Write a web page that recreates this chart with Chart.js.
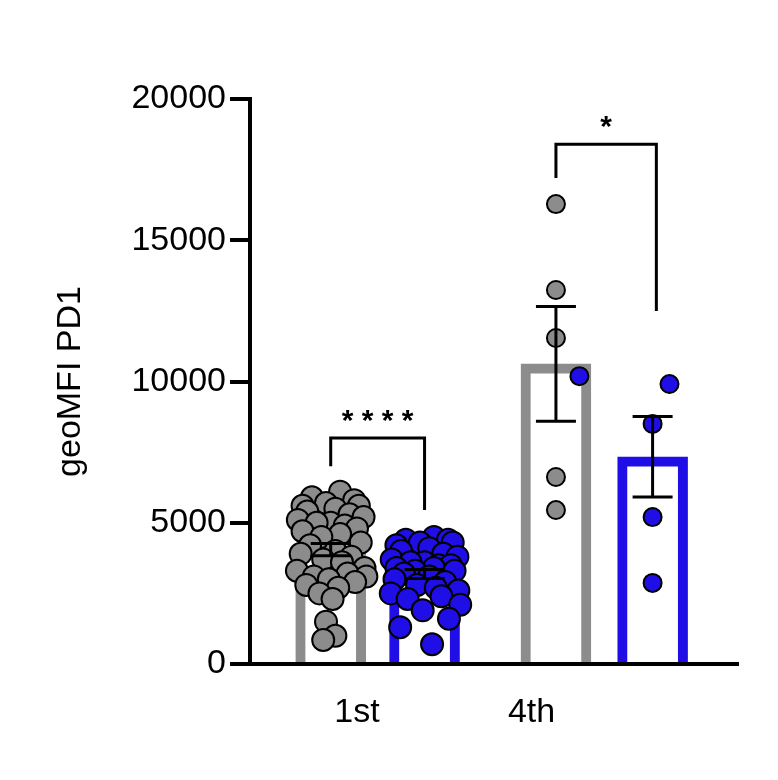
<!DOCTYPE html>
<html>
<head>
<meta charset="utf-8">
<script src="https://cdn.jsdelivr.net/npm/chart.js@4"></script>
<style>
  body { margin: 0; background: #fff; }
  #wrap { width: 778px; height: 780px; }
</style>
</head>
<body>
<div id="wrap"><canvas id="myChart"></canvas></div>
<script>
// values in geoMFI units
const gray1st = [6100, 5900, 5800, 5700, 5600, 5600, 5500, 5400, 5300, 5200, 5100, 5000, 5000, 4900, 4800, 4700, 4600, 4500, 4300, 4200, 4000, 3900, 3800, 3700, 3600, 3400, 3300, 3200, 3100, 3100, 3000, 2900, 2800, 2700, 2500, 2300, 1500, 1000, 850];
const blue1st = [4500, 4400, 4400, 4300, 4300, 4200, 4100, 4000, 3900, 3800, 3700, 3600, 3600, 3500, 3500, 3400, 3400, 3300, 3300, 3200, 3100, 3000, 2900, 2800, 2700, 2600, 2500, 2400, 2300, 2100, 1900, 1600, 1300, 700];
const gray4th = [16280, 13240, 11540, 6620, 5450];
const blue4th = [10190, 9910, 8500, 5200, 2870];
// horizontal spread of the dots inside each group
const jitter1st = [0.1, -0.2, 0.25, -0.05, 0.3, -0.3, 0.05, -0.25, 0.2, 0.35, -0.35, 0.0, -0.15, 0.15, 0.28, -0.3, 0.1, -0.1, 0.32, -0.22, 0.05, -0.32, 0.22, -0.08, 0.12, 0.36, -0.36, 0.18, -0.18, 0.38, -0.02, 0.26, -0.26, 0.08, -0.12, 0.02, -0.05, 0.05, -0.08];
const jitter4th = [0, 0, 0, 0, 0];
const blue4thJitter = [-0.78, 0.18, 0, 0, 0];
const groupX = [0.86, 1.86, 3.26, 4.29];
const tickPos = [1.14, 3.0];
const tickLabels = ['1st', '4th'];
const yTicks = [0, 5000, 10000, 15000, 20000];

const GRAY = '#8c8c8c', BLUE = '#1f0fe6';
const groups = [gray1st, blue1st, gray4th, blue4th];
const mean = a => a.reduce((s, v) => s + v, 0) / a.length;
const sem = a => { const m = mean(a); return Math.sqrt(a.reduce((s, v) => s + (v - m) ** 2, 0) / (a.length - 1) / a.length); };

function pts(vals, x, jit) {
  return vals.map((v, i) => ({ x: x + (jit[i % jit.length] || 0), y: v }));
}

const errPlugin = {
  id: 'errs',
  afterDatasetsDraw(chart) {
    const c = chart.ctx, xs = chart.scales.x, ys = chart.scales.y;
    c.save();
    c.strokeStyle = '#000';
    c.lineWidth = 3;
    groups.forEach((g, i) => {
      const m = mean(g), s = sem(g);
      const px = xs.getPixelForValue(groupX[i]);
      const t = ys.getPixelForValue(m + s), b = ys.getPixelForValue(m - s);
      c.beginPath();
      c.moveTo(px, t); c.lineTo(px, b);
      c.moveTo(px - 20, t); c.lineTo(px + 20, t);
      c.moveTo(px - 20, b); c.lineTo(px + 20, b);
      c.stroke();
    });
    // significance brackets
    const br = (x1, x2, y, y1, y2, label) => {
      const a = xs.getPixelForValue(x1), b = xs.getPixelForValue(x2), h = ys.getPixelForValue(y);
      c.beginPath();
      c.moveTo(a, ys.getPixelForValue(y1)); c.lineTo(a, h); c.lineTo(b, h); c.lineTo(b, ys.getPixelForValue(y2));
      c.stroke();
      c.fillStyle = '#000';
      c.font = 'bold 30px "Liberation Sans", Arial';
      c.textAlign = 'center';
      c.fillText(label, (a + b) / 2, h - 8);
    };
    br(groupX[0], groupX[1], 8000, 7000, 5450, '* * * *');
    br(groupX[2], groupX[3] + 0.04, 18400, 17200, 12500, '*');
    c.restore();
  }
};

const font = { family: '"Liberation Sans", Arial', size: 34 };

new Chart(document.getElementById('myChart'), {
  type: 'bar',
  data: {
    datasets: [
      { type: 'scatter', data: pts(gray1st, groupX[0], jitter1st), backgroundColor: GRAY, borderColor: '#000', borderWidth: 2, pointRadius: 11, order: 0 },
      { type: 'scatter', data: pts(blue1st, groupX[1], jitter1st), backgroundColor: BLUE, borderColor: '#000', borderWidth: 2, pointRadius: 11, order: 0 },
      { type: 'scatter', data: pts(gray4th, groupX[2], jitter4th), backgroundColor: GRAY, borderColor: '#000', borderWidth: 2, pointRadius: 9, order: 0 },
      { type: 'scatter', data: pts(blue4th, groupX[3], blue4thJitter), backgroundColor: BLUE, borderColor: '#000', borderWidth: 2, pointRadius: 9, order: 0 },
      {
        data: groups.map((g, i) => ({ x: groupX[i], y: mean(g) })),
        backgroundColor: '#fff',
        borderColor: [GRAY, BLUE, GRAY, BLUE],
        borderWidth: 10,
        barThickness: 70,
        order: 1
      }
    ]
  },
  options: {
    responsive: true,
    maintainAspectRatio: false,
    animation: false,
    layout: { padding: { top: 99, right: 40, left: 50 } },
    plugins: { legend: { display: false }, tooltip: { enabled: false } },
    scales: {
      x: {
        type: 'linear', min: 0, max: 5.2, offset: false, bounds: 'ticks',
        afterDataLimits: s => { s.min = 0; s.max = 5.2; },
        afterFit: s => { s.height = 116; },
        afterBuildTicks: s => { s.ticks = tickPos.map(v => ({ value: v })); },
        ticks: { color: '#000', font: font, padding: 20, maxRotation: 0,
          callback: (v, i) => tickLabels[i] },
        grid: { display: false, offset: false },
        border: { color: '#000', width: 4 }
      },
      y: {
        min: 0, max: 20000,
        afterFit: s => { s.width = 200; },
        afterBuildTicks: s => { s.ticks = yTicks.map(v => ({ value: v })); },
        ticks: { color: '#000', font: font, padding: 4, callback: v => String(v) },
        grid: { drawOnChartArea: false, drawTicks: true, tickLength: 20, lineWidth: 4, color: '#000' },
        border: { color: '#000', width: 4 },
        title: { display: true, text: 'geoMFI PD1', color: '#000', font: font, padding: 0 }
      }
    }
  },
  plugins: [errPlugin]
});
</script>
</body>
</html>
